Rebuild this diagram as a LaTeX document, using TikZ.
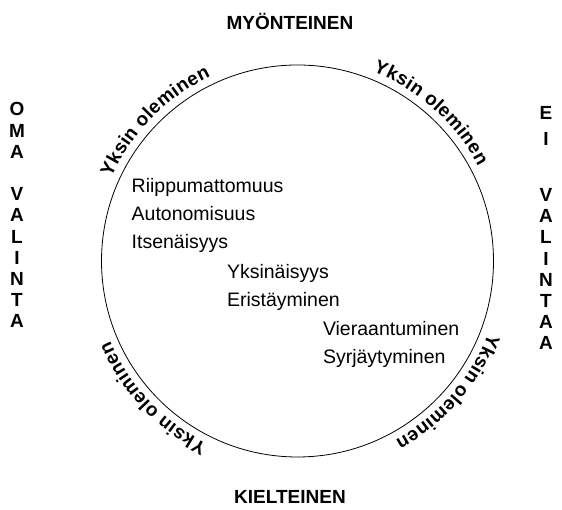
\documentclass[tikz,border=0pt]{standalone}
\usepackage{fontspec}
\setmainfont{Liberation Sans}
\usepackage{tikz}
\usetikzlibrary{positioning, decorations.text}

\begin{document}
\begin{tikzpicture}[x=1pt, y=1pt, outer sep=0pt,
    side/.style={font=\bfseries\fontsize{19}{21.2}\selectfont, align=center, anchor=base, inner sep=0pt},
    term/.style={font=\fontsize{19.5}{28}\selectfont, align=left, anchor=base west, inner sep=0pt},
    ring/.style={decorate, decoration={text along path, text align=center, raise=8pt,
        text={|\bfseries\fontsize{19}{19}\selectfont|Yksin oleminen}}}]
    \useasboundingbox (0,0) rectangle (562,510);

    % Ympyrä
    \coordinate (c) at (297.5,249);
    \draw[line width=0.8pt] (c) circle[radius=196];

    % Yksin oleminen (kehällä)
    \path[ring] ([shift={(165.5:196)}]c) arc[start angle=165.5, end angle=105.5, radius=196];
    \path[ring] ([shift={(78:196)}]c) arc[start angle=78, end angle=18, radius=196];
    \path[ring] ([shift={(253.5:196)}]c) arc[start angle=253.5, end angle=193.5, radius=196];
    \path[ring] ([shift={(349:196)}]c) arc[start angle=349, end angle=289, radius=196];

    % Akselit (base = viimeinen rivi)
    \node[side] (myont) at (290,480) {MYÖNTEINEN};
    \node[side] (kielt) at (290,6) {KIELTEINEN};
    \node[side] (oma) at (17,182) {O\\M\\A\\[21.2pt]V\\A\\L\\I\\N\\T\\A};
    \node[side] (ei) at (546,160) {E\\[5pt]I\\[35pt]V\\A\\L\\I\\N\\T\\A\\A};

    % Käsitteet
    \node[term] (itse) at (131.7,261) {Riippumattomuus\\Autonomisuus\\Itsenäisyys};
    \node[term] (yksin) at (227,203) {Yksinäisyys\\Eristäyminen};
    \node[term] (vieras) at (323,146) {Vieraantuminen\\Syrjäytyminen};
\end{tikzpicture}
\end{document}
